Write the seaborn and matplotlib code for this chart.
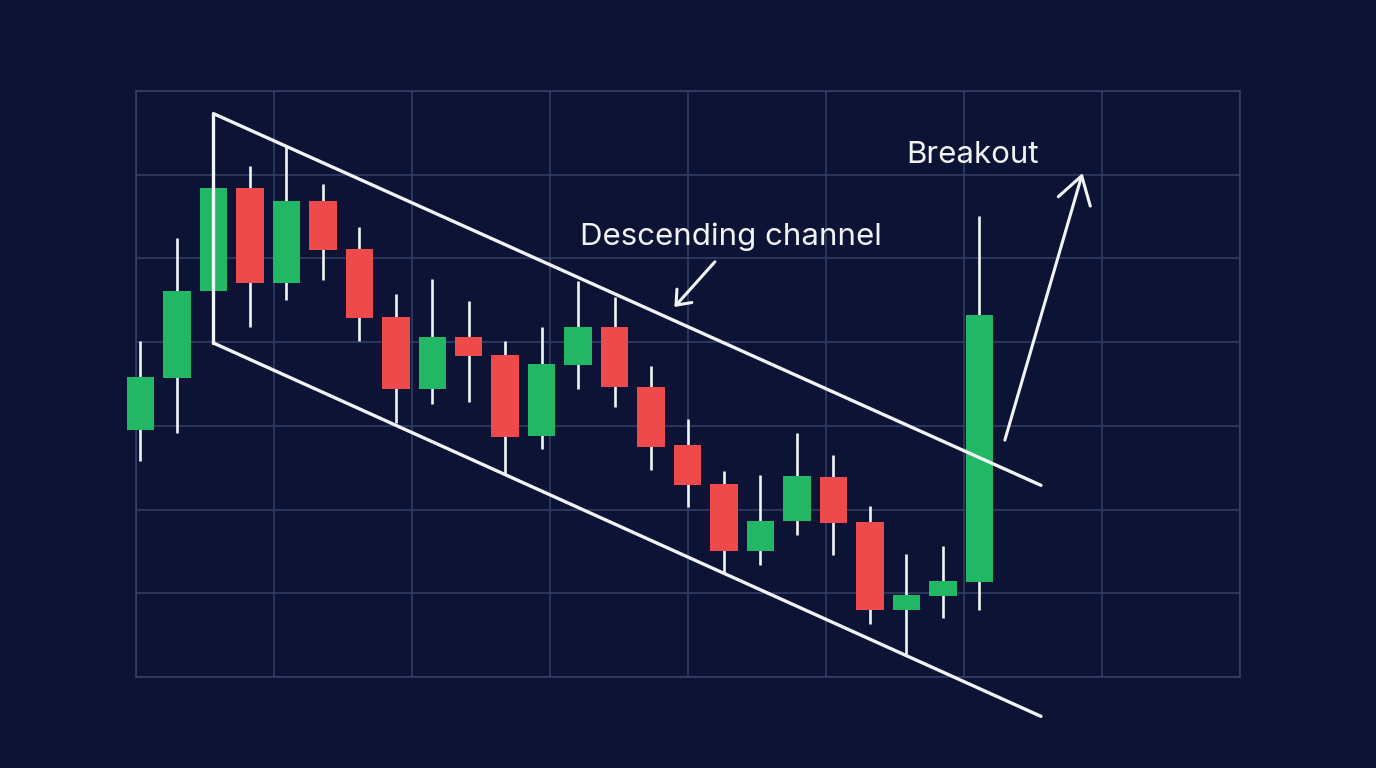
import numpy as np
import pandas as pd
import matplotlib
matplotlib.use("Agg")
import matplotlib.pyplot as plt
import seaborn as sns

# Candle data (index = session number)
opens = [129.5, 135.7, 146.1, 158.4, 147.1, 156.9, 151.1, 143.0, 134.4, 140.6, 138.5, 128.8,
         137.3, 141.8, 134.6, 127.7, 123.0, 115.0, 118.6, 123.9, 118.5, 108.0, 109.7, 111.4]
closes = [135.8, 146.1, 158.4, 147.1, 156.9, 151.0, 142.9, 134.4, 140.6, 138.4, 128.7, 137.4,
          141.8, 134.6, 127.5, 122.9, 115.0, 118.6, 124.0, 118.4, 108.0, 109.8, 111.5, 143.2]
highs = [140.1, 152.5, 167.3, 161.1, 163.3, 158.9, 153.8, 145.8, 147.5, 144.9, 140.1, 141.8,
         147.3, 145.4, 137.1, 130.8, 124.6, 124.1, 129.1, 126.5, 120.4, 114.7, 115.6, 155.1]
lows = [125.8, 129.2, 139.9, 141.8, 145.0, 147.4, 140.1, 130.3, 132.6, 132.9, 124.2, 127.2,
        134.4, 132.3, 124.7, 120.3, 112.3, 113.4, 117.0, 114.6, 106.3, 102.6, 107.1, 108.0]

# Descending channel
channel_x = [2, 24.69]
channel_upper = [167.3, 122.9]
channel_lower = [139.9, 95.3]

# Annotations
desc_label = "Descending channel"
desc_text_xy = (16.19, 151.6)
desc_arrow_from = (15.75, 149.6)
desc_arrow_to = (14.64, 144.2)
break_label = "Breakout"
break_text_xy = (22.81, 161.4)
break_arrow_from = (23.70, 128.3)
break_arrow_to = (25.83, 160.2)

BG = "#0c1334"
GRID = "#344068"
GREEN = "#22b765"
RED = "#ee4a4b"
WHITE = "#f2f3f7"

sns.set_theme(style="dark", rc={
    "figure.facecolor": BG,
    "axes.facecolor": BG,
    "savefig.facecolor": BG,
})
plt.rcParams["font.family"] = ["Inter", "DejaVu Sans"]

df = pd.DataFrame({"open": opens, "close": closes, "high": highs, "low": lows})
df["t"] = np.arange(len(df))
df["up"] = df["close"] >= df["open"]

fig = plt.figure(figsize=(13.76, 7.68), dpi=100)
ax = fig.add_axes([136 / 1376, 91 / 768, 1104 / 1376, 586 / 768])

xlim = (-0.123, 30.148)
ax.set_xlim(*xlim)
ax.set_ylim(100, 170)
ax.set_xticks(np.linspace(xlim[0], xlim[1], 9))
ax.set_yticks(np.arange(100, 171, 10))
ax.tick_params(length=0, labelbottom=False, labelleft=False)
ax.grid(True, color=GRID, linewidth=1.1)
for s in ax.spines.values():
    s.set_color(GRID)
    s.set_linewidth(1.1)

# wicks
ax.vlines(df["t"], df["low"], df["high"], color=WHITE, linewidth=1.9, zorder=2, clip_on=False)

# bodies
colors = np.where(df["up"], GREEN, RED)
bottoms = df[["open", "close"]].min(axis=1)
heights = (df["close"] - df["open"]).abs()
ax.bar(df["t"], heights, bottom=bottoms, width=0.754, color=colors, edgecolor="none",
       linewidth=0, zorder=3, clip_on=False)

# channel
chan = pd.DataFrame({"x": channel_x, "upper": channel_upper, "lower": channel_lower})
for col in ["upper", "lower"]:
    sns.lineplot(data=chan, x="x", y=col, ax=ax, color=WHITE, linewidth=2.4,
                 zorder=4, clip_on=False, solid_capstyle="round")
ax.plot([channel_x[0], channel_x[0]], [channel_lower[0], channel_upper[0]],
        color=WHITE, linewidth=2.4, zorder=4, solid_capstyle="round")
ax.set_xlabel("")
ax.set_ylabel("")

# annotations
ax.annotate("", xy=desc_arrow_to, xytext=desc_arrow_from,
            arrowprops=dict(arrowstyle="->,head_length=0.75,head_width=0.6", color=WHITE,
                            lw=2.2, shrinkA=0, shrinkB=0),
            annotation_clip=False, zorder=5)
ax.annotate("", xy=break_arrow_to, xytext=break_arrow_from,
            arrowprops=dict(arrowstyle="->,head_length=1.6,head_width=1.0", color=WHITE,
                            lw=2.2, shrinkA=0, shrinkB=0),
            annotation_clip=False, zorder=5)
ax.text(*desc_text_xy, desc_label, color=WHITE, fontsize=22.5, ha="center", va="baseline",
        zorder=5)
ax.text(*break_text_xy, break_label, color=WHITE, fontsize=22.5, ha="center", va="baseline",
        zorder=5)

fig.savefig("out.png", dpi=100, facecolor=BG)
